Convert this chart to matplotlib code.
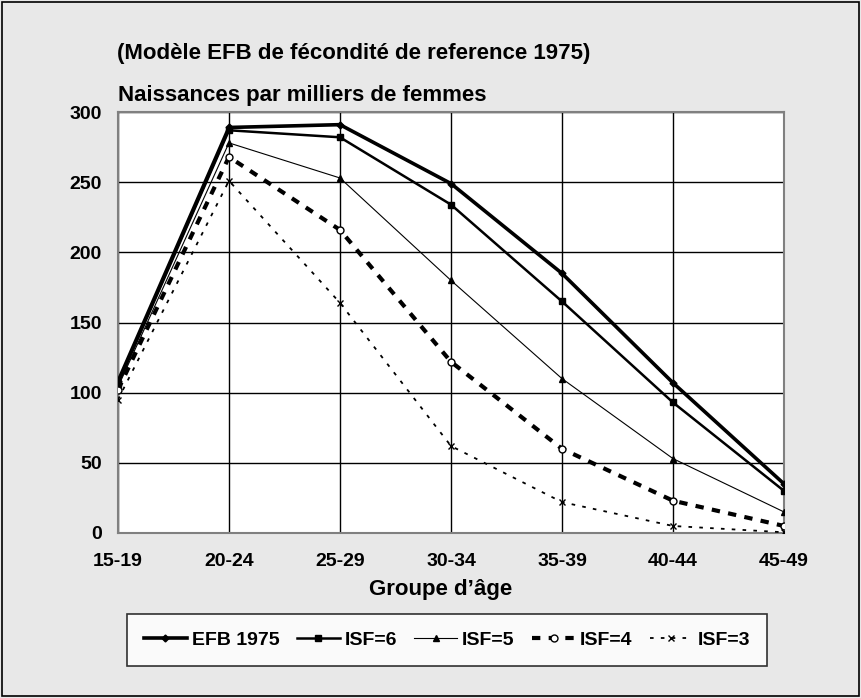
import matplotlib
matplotlib.use("Agg")
import matplotlib.pyplot as plt
from matplotlib.patches import Rectangle

plt.rcParams['font.family'] = ['Liberation Sans', 'DejaVu Sans']

groups = ["15-19", "20-24", "25-29", "30-34", "35-39", "40-44", "45-49"]
efb_1975 = [108, 289, 291, 249, 185, 107, 35]
isf6 = [106, 287, 282, 234, 165, 93, 30]
isf5 = [104, 278, 253, 180, 110, 53, 15]
isf4 = [102, 268, 216, 122, 60, 23, 5]
isf3 = [95, 251, 164, 62, 22, 5, 0.5]
yticks = [0, 50, 100, 150, 200, 250, 300]

fig = plt.figure(figsize=(8.61, 6.98), dpi=100)
fig.patch.set_facecolor('#e8e8e8')
fig.patches.append(Rectangle((0.002, 0.003), 0.996, 0.994, transform=fig.transFigure,
                             fill=False, edgecolor='black', linewidth=1.2))

ax = fig.add_axes([0.137, 0.2364, 0.7736, 0.6031])
ax.set_facecolor('white')
x = list(range(len(groups)))

ax.plot(x, efb_1975, color='black', lw=2.6, marker='D', ms=3.5, label='EFB 1975', zorder=5)
ax.plot(x, isf6, color='black', lw=1.8, marker='s', ms=5, label='ISF=6', zorder=5)
ax.plot(x, isf5, color='black', lw=0.8, marker='^', ms=5, label='ISF=5', zorder=5)
ax.plot(x, isf4, color='black', lw=3.0, ls=(0, (2, 2)), marker='o', ms=5,
        mfc='white', mec='black', mew=1, label='ISF=4', zorder=5)
ax.plot(x, isf3, color='black', lw=1.3, ls=(0, (2, 4)), marker='x', ms=5, mew=1,
        label='ISF=3', zorder=5)

ax.set_xlim(0, 6)
ax.set_ylim(0, 300)
ax.set_xticks(x)
ax.set_xticklabels(groups, fontsize=14, fontweight='bold')
ax.set_yticks(yticks)
ax.set_yticklabels([str(v) for v in yticks], fontsize=14, fontweight='bold')
ax.tick_params(length=0)
ax.tick_params(axis='y', pad=11.5)
ax.tick_params(axis='x', pad=14.5)
ax.grid(True, color='black', linewidth=1.0)
ax.set_axisbelow(True)
for s in ax.spines.values():
    s.set_color('#808080')
    s.set_linewidth(1.5)

fig.text(441 / 861, 1 - 590 / 698, "Groupe d\u2019âge", fontsize=16, fontweight='bold',
         ha='center', va='center')

fig.text(117 / 861, 1 - 53 / 698, "(Modèle EFB de fécondité de reference 1975)", fontsize=16,
         fontweight='bold', va='center', ha='left')
fig.text(118 / 861, 1 - 95 / 698, "Naissances par milliers de femmes", fontsize=16,
         fontweight='bold', va='center', ha='left')

leg = fig.legend(loc='center', bbox_to_anchor=(447 / 861, 1 - 640 / 698), ncol=5, frameon=True,
                 fancybox=False, shadow=False, edgecolor='black', handlelength=2.2,
                 handletextpad=0.25, columnspacing=0.9, borderpad=0.9,
                 prop={'weight': 'bold', 'size': 14})
leg.get_frame().set_linewidth(1.2)

fig.savefig("out.png", dpi=100, facecolor=fig.get_facecolor())
